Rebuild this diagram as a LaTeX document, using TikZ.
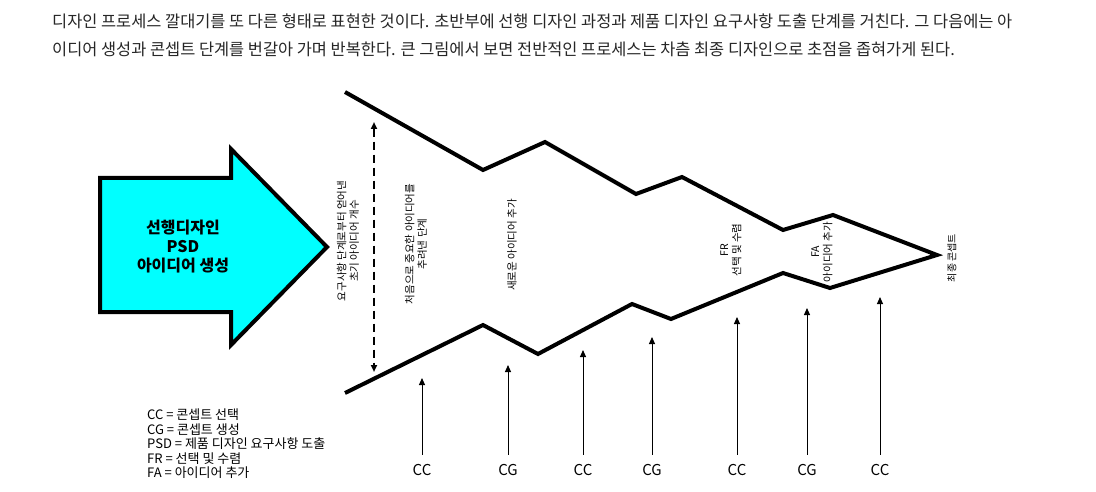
\documentclass[tikz,border=0pt]{standalone}
\usepackage{fontspec}
\setmainfont{Noto Sans CJK KR}
\usetikzlibrary{arrows.meta}
\definecolor{arrowcyan}{RGB}{0,255,255}
\begin{document}
\begin{tikzpicture}[x=1pt,y=-1pt,
  zig/.style={line width=4pt, line join=miter, miter limit=10},
  up/.style={line width=1pt, -{Triangle[length=7pt,width=6pt]}},
  lab/.style={font=\fontsize{15}{15}\selectfont, text height=11pt, text depth=0pt, inner xsep=1pt, inner ysep=9pt, anchor=base},
  vtext/.style={rotate=90, align=center, font=\fontsize{10.5}{12.5}\selectfont, inner sep=0pt},
  hdr/.style={anchor=base west, inner sep=0pt, font=\fontsize{16.4}{16.4}\selectfont, text=black!85},
]
\useasboundingbox (0,0) rectangle (1096,492);
\fill[white] (0,0) rectangle (1096,492);

% header
\node[hdr] (h1) at (52,28) {디자인 프로세스 깔대기를 또 다른 형태로 표현한 것이다. 초반부에 선행 디자인 과정과 제품 디자인 요구사항 도출 단계를 거친다. 그 다음에는 아};
\node[hdr] (h2) at (52,56) {이디어 생성과 콘셉트 단계를 번갈아 가며 반복한다. 큰 그림에서 보면 전반적인 프로세스는 차츰 최종 디자인으로 초점을 좁혀가게 된다.};

% big arrow
\draw[line width=4pt, fill=arrowcyan, line join=miter] (100,178) -- (231,178) -- (231,149) -- (327,247) -- (231,345) -- (231,312) -- (100,312) -- cycle;
\node[align=center, font=\bfseries\fontsize{16}{19}\selectfont] (arrtxt) at (183,247) {선행디자인\\PSD\\아이디어 생성};

% funnel
\draw[zig] (345,92) -- (483,170) -- (545,142) -- (636,194) -- (682,177) -- (783,230) -- (833,215) -- (937,255) -- (830,288) -- (783,273) -- (671,319) -- (632,304) -- (538,354) -- (483,325) -- (345,393);

% dashed measure
\coordinate (dtop) at (374,122);
\coordinate (dbot) at (374,372);
\draw[line width=1.8pt, dash pattern=on 8pt off 5pt, {Triangle[length=7pt,width=6pt]}-{Triangle[length=7pt,width=6pt]}] (dtop) -- (dbot);

% rotated texts
\node[vtext] (v1) at (348,241) {요구사항 단계로부터 얻어낸\\초기 아이디어 개수};
\node[vtext] (v2) at (416,244) {처음으로 중요한 아이디어를\\추려낸 단계};
\node[vtext] (v3) at (512,245) {새로운 아이디어 추가};
\node[vtext] (v4) at (731,250) {FR\\선택 및 수렴};
\node[vtext] (v5) at (822,252) {FA\\아이디어 추가};
\node[vtext, font=\fontsize{10}{12}\selectfont] (v6) at (952,258) {최종 콘셉트};

% bottom labels and arrows
\node[lab] (b1) at (422,475) {CC};
\node[lab] (b2) at (508,475) {CG};
\node[lab] (b3) at (583,475) {CC};
\node[lab] (b4) at (652,475) {CG};
\node[lab] (b5) at (737,475) {CC};
\node[lab] (b6) at (807,475) {CG};
\node[lab] (b7) at (880,475) {CC};
\coordinate (t1) at (422,378);
\coordinate (t2) at (508,365);
\coordinate (t3) at (583,350);
\coordinate (t4) at (652,337);
\coordinate (t5) at (737,317);
\coordinate (t6) at (807,308);
\coordinate (t7) at (880,297);
\foreach \i in {1,...,7} \draw[up] (b\i.north) -- (t\i);

% legend
\node[anchor=north west, align=left, inner sep=0pt, font=\fontsize{13}{14.5}\selectfont] (leg) at (147,409) {CC = 콘셉트 선택\\CG = 콘셉트 생성\\PSD = 제품 디자인 요구사항 도출\\FR = 선택 및 수렴\\FA = 아이디어 추가};
\end{tikzpicture}
\end{document}
